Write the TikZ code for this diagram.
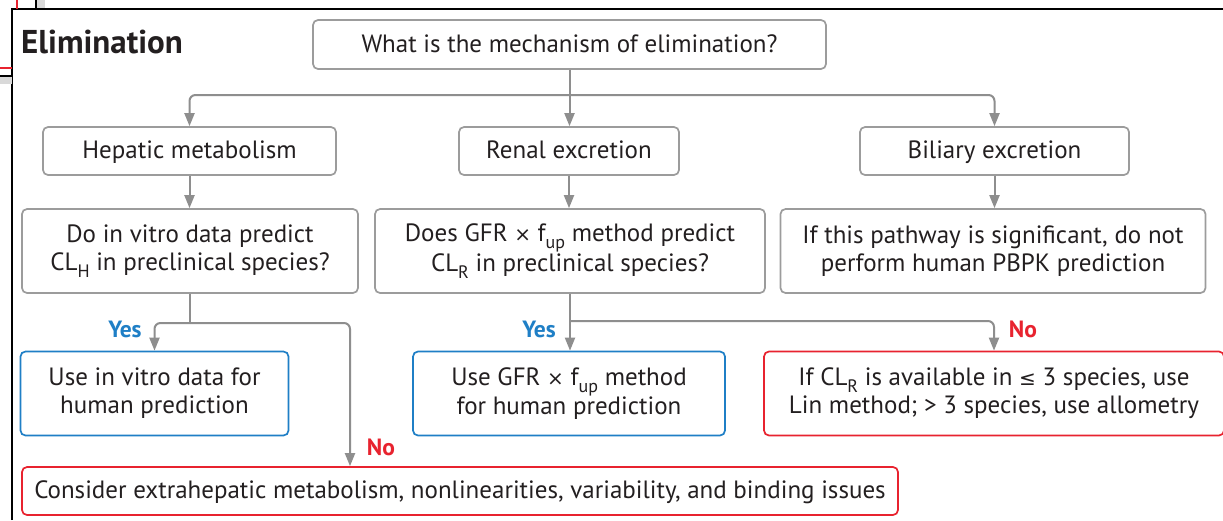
\documentclass[tikz,border=0pt]{standalone}
\usepackage{fontspec}
\setmainfont{PT Sans}
\newfontfamily\symfont{DejaVu Sans}
\usetikzlibrary{arrows.meta}

\definecolor{ink}{HTML}{231F20}
\definecolor{boxgray}{HTML}{9C9C9C}
\definecolor{linegray}{HTML}{8E8E8E}
\definecolor{ablue}{HTML}{1F7FC6}
\definecolor{ared}{HTML}{E8232F}

% lowered subscript as used in CL_H, CL_R, f_up
\newcommand\lowidx[1]{\raisebox{-0.28em}{\fontsize{18}{18}\selectfont #1}}
\newcommand\leqsym{{\symfont\fontsize{20}{20}\selectfont ≤}}
\newcommand\timessym{{\symfont\fontsize{20}{20}\selectfont ×}}

\tikzset{
  boxbase/.style={rounded corners=5pt, line width=1.7pt, fill=white, align=center,
    inner sep=0pt, text=ink, font=\fontsize{25}{28}\selectfont},
  oneline/.style={text height=20pt, text depth=5pt},
  gbox/.style={boxbase, draw=boxgray},
  bbox/.style={boxbase, draw=ablue},
  rbox/.style={boxbase, draw=ared},
  conn/.style={draw=linegray, line width=2pt, rounded corners=6pt},
  arr/.style={conn, -{Triangle[width=10pt,length=13pt]}},
  yeslbl/.style={text=ablue, font=\bfseries\fontsize{23.5}{23.5}\selectfont, inner sep=0pt},
  nolbl/.style={text=ared, font=\bfseries\fontsize{23.5}{23.5}\selectfont, inner sep=0pt},
}

\begin{document}
\begin{tikzpicture}[x=1pt,y=-1pt]
\useasboundingbox (0,0) rectangle (1223,520);
\fill[white] (0,0) rectangle (1223,520);

% window edges
\draw[black, line width=2.5pt] (12,520) -- (12,9) -- (1223,9);
\fill[black!15] (37,0) rectangle (45,8);
\draw[black, line width=2.5pt] (36,0) -- (36,9);
\draw[ared, line width=1.2pt] (17,0) -- (17,9);
\draw[ared, line width=1.2pt] (0,68) -- (12,68);
\fill[black!15] (0,77) rectangle (12,84);
\draw[black, line width=2.5pt] (0,76) -- (12,76);

% title
\node[anchor=base west, inner sep=0pt, text=ink, font=\bfseries\fontsize{33}{33}\selectfont] (title) at (21,53) {Elimination};

% boxes
\node[gbox, oneline, minimum width=513pt, minimum height=49pt] (q) at (569.5,44.5) {What is the mechanism of elimination?};

\node[gbox, oneline, minimum width=293pt, minimum height=48pt] (hep) at (189.5,151) {Hepatic metabolism};
\node[gbox, oneline, minimum width=220pt, minimum height=48pt] (ren) at (569,151) {Renal excretion};
\node[gbox, oneline, minimum width=269pt, minimum height=48pt] (bil) at (994.5,151) {Biliary excretion};

\node[gbox, minimum width=336pt, minimum height=84pt] (hq) at (190,251)
  {Do in vitro data predict\\CL\lowidx{H} in preclinical species?};
\node[gbox, minimum width=390pt, minimum height=84pt] (rq) at (570,251)
  {Does GFR \timessym{} f\lowidx{up} method predict\\CL\lowidx{R} in preclinical species?};
\node[gbox, minimum width=425pt, minimum height=84pt] (bq) at (993,251)
  {If this pathway is significant, do not\\perform human PBPK prediction};

\node[bbox, minimum width=268pt, minimum height=84pt] (hy) at (154.5,393.5)
  {Use in vitro data for\\human prediction};
\node[bbox, minimum width=312pt, minimum height=84pt] (ry) at (569,393.5)
  {Use GFR \timessym{} f\lowidx{up} method\\for human prediction};
\node[rbox, minimum width=460pt, minimum height=84pt] (rn) at (994,393.5)
  {If CL\lowidx{R} is available in \leqsym{} 3 species, use\\Lin method; > 3 species, use allometry};

\node[rbox, oneline, minimum width=876pt, minimum height=48pt] (cons) at (460,491)
  {Consider extrahepatic metabolism, nonlinearities, variability, and binding issues};

% junctions
\coordinate (qj) at (569.5,95);
\coordinate (hj) at (190,323);
\coordinate (rj) at (569.5,321);
\coordinate (nh) at (350,0);

% connectors
\draw[arr] (q.south) -- (q.south |- ren.north);
\draw[arr] (qj) -| (hep.north);
\draw[arr] (qj) -| (bil.north);

\draw[arr] (hep.south) -- (hep.south |- hq.north);
\draw[arr] (ren.south) -- (ren.south |- rq.north);
\draw[arr] (bil.south) -- (bil.south |- bq.north);

\draw[conn] (hq.south) -- (hj);
\draw[arr] (hj) -| (hy.north);
\draw[arr] (hj) -| (nh |- cons.north);

\draw[arr] (rq.south) -- (rq.south |- ry.north);
\draw[arr] (rj) -| (rn.north);

% branch labels
\node[yeslbl] (y1) at (125,329) {Yes};
\node[nolbl] (n1) at (381,447) {No};
\node[yeslbl] (y2) at (539,329) {Yes};
\node[nolbl] (n2) at (1023,329) {No};
\end{tikzpicture}
\end{document}
